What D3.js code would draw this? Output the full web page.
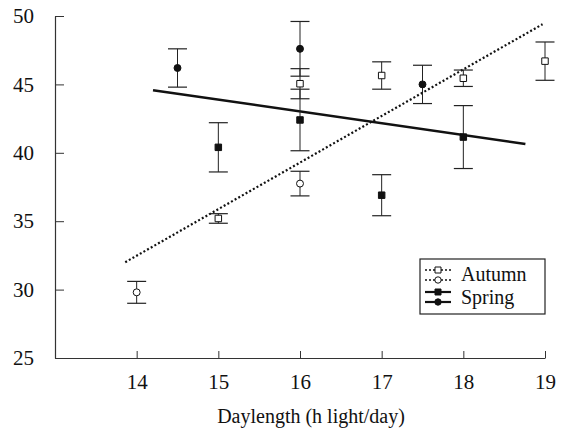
<!DOCTYPE html>
<html>
<head>
<meta charset="utf-8">
<script src="https://cdn.jsdelivr.net/npm/d3@7"></script>
<style>
  body { margin: 0; background: #fff; }
  text { font-family: "Liberation Serif", "DejaVu Serif", serif; fill: #111; }
</style>
</head>
<body>
<svg id="chart"></svg>
<script>
const w = 563;
const h = 433;

// autumn, open symbols
const autumnSqX = [15, 16, 17, 18, 19];
const autumnSqY = [35.2, 45.05, 45.65, 45.45, 46.7];
const autumnSqErr = [0.35, 1.1, 1.0, 0.6, 1.4];
const autumnCiX = [14, 16];
const autumnCiY = [29.8, 37.75];
const autumnCiErr = [0.8, 0.9];

// spring, filled symbols
const springSqX = [15, 16, 17, 18];
const springSqY = [40.4, 42.4, 36.9, 41.15];
const springSqErr = [1.8, 2.25, 1.5, 2.3];
const springCiX = [14.5, 16, 17.5];
const springCiY = [46.2, 47.6, 45.0];
const springCiErr = [1.4, 2.0, 1.4];

// fitted lines (end points)
const autumnFitX = [13.86, 18.97];
const autumnFitY = [32.0, 49.4];
const springFitX = [14.2, 18.76];
const springFitY = [44.58, 40.64];

const xTicks = [14, 15, 16, 17, 18, 19];
const yTicks = [25, 30, 35, 40, 45, 50];
const xLabel = "Daylength (h light/day)";

var chart = d3.select("#chart")
  .attr("width", w)
  .attr("height", h);

const xScale = d3.scaleLinear().domain([13, 19]).range([55, 545]);
const yScale = d3.scaleLinear().domain([25, 50]).range([358, 16]);

const xAxis = d3.axisBottom(xScale).tickValues(xTicks).tickFormat(d3.format("d"))
  .tickSizeInner(-7).tickSizeOuter(0).tickPadding(16);
const yAxis = d3.axisLeft(yScale).tickValues(yTicks).tickFormat(d3.format("d"))
  .tickSizeInner(-9).tickSizeOuter(0).tickPadding(21);

const gx = chart.append("g")
  .attr("transform", `translate(0, ${yScale(25)})`)
  .call(xAxis);
const gy = chart.append("g")
  .attr("transform", `translate(${xScale(13)}, 0)`)
  .call(yAxis);

[gx, gy].forEach(g => {
  g.select(".domain").attr("stroke", "#333").attr("stroke-width", 1.2);
  g.selectAll(".tick line").attr("stroke", "#333");
  g.selectAll(".tick text").attr("font-size", 21).attr("fill", "#111")
    .style("font-family", '"Liberation Serif", serif');
});
gy.selectAll(".tick text").attr("text-anchor", "end");

chart.append("text")
  .attr("x", 311)
  .attr("y", 423)
  .attr("text-anchor", "middle")
  .attr("font-size", 20)
  .text(xLabel);

// fitted lines
function fit(xs, ys) {
  return xs.map((x, i) => [xScale(x), yScale(ys[i])]);
}
chart.append("path")
  .attr("d", d3.line()(fit(autumnFitX, autumnFitY)))
  .attr("stroke", "#111").attr("stroke-width", 2.2).attr("stroke-dasharray", "2,2.2")
  .attr("fill", "none");
chart.append("path")
  .attr("d", d3.line()(fit(springFitX, springFitY)))
  .attr("stroke", "#111").attr("stroke-width", 2.5)
  .attr("fill", "none");

// error bars + points
function series(xs, ys, errs, shape, filled) {
  const data = xs.map((x, i) => ({x: x, y: ys[i], e: errs[i]}));
  const g = chart.append("g");
  const bars = g.selectAll(".err").data(data).enter().append("g");
  bars.append("line")
    .attr("x1", d => xScale(d.x)).attr("x2", d => xScale(d.x))
    .attr("y1", d => yScale(d.y + d.e)).attr("y2", d => yScale(d.y - d.e))
    .attr("stroke", "#222").attr("stroke-width", 1);
  [1, -1].forEach(s => {
    bars.append("line")
      .attr("x1", d => xScale(d.x) - 9.5).attr("x2", d => xScale(d.x) + 9.5)
      .attr("y1", d => yScale(d.y + s * d.e)).attr("y2", d => yScale(d.y + s * d.e))
      .attr("stroke", "#222").attr("stroke-width", 1.2);
  });
  const sym = d3.symbol().type(shape === "square" ? d3.symbolSquare : d3.symbolCircle)
    .size(shape === "square" ? 42 : 38);
  g.selectAll(".pt").data(data).enter().append("path")
    .attr("d", sym)
    .attr("transform", d => `translate(${xScale(d.x)}, ${yScale(d.y)})`)
    .attr("fill", filled ? "#111" : "#fff")
    .attr("stroke", "#111").attr("stroke-width", 1);
}
series(autumnSqX, autumnSqY, autumnSqErr, "square", false);
series(autumnCiX, autumnCiY, autumnCiErr, "circle", false);
series(springSqX, springSqY, springSqErr, "square", true);
series(springCiX, springCiY, springCiErr, "circle", true);

// legend
const lg = chart.append("g");
lg.append("rect")
  .attr("x", 420).attr("y", 259).attr("width", 125).attr("height", 55)
  .attr("fill", "#fff").attr("stroke", "#222").attr("stroke-width", 1.2);
const legendRows = [
  {y: 270, dash: "2,2", sw: 1.6, shape: "square", filled: false},
  {y: 280, dash: "2,2", sw: 1.6, shape: "circle", filled: false},
  {y: 292, dash: null, sw: 2.2, shape: "square", filled: true},
  {y: 302, dash: null, sw: 2.2, shape: "circle", filled: true}
];
legendRows.forEach(r => {
  lg.append("line")
    .attr("x1", 425).attr("x2", 451).attr("y1", r.y).attr("y2", r.y)
    .attr("stroke", "#111").attr("stroke-width", r.sw)
    .attr("stroke-dasharray", r.dash);
  lg.append("path")
    .attr("d", d3.symbol().type(r.shape === "square" ? d3.symbolSquare : d3.symbolCircle).size(r.shape === "square" ? 36 : 32))
    .attr("transform", `translate(438, ${r.y})`)
    .attr("fill", r.filled ? "#111" : "#fff")
    .attr("stroke", "#111").attr("stroke-width", 1);
});
lg.append("text").attr("x", 461).attr("y", 281).attr("font-size", 20).text("Autumn");
lg.append("text").attr("x", 461).attr("y", 304).attr("font-size", 20).text("Spring");
</script>
</body>
</html>
